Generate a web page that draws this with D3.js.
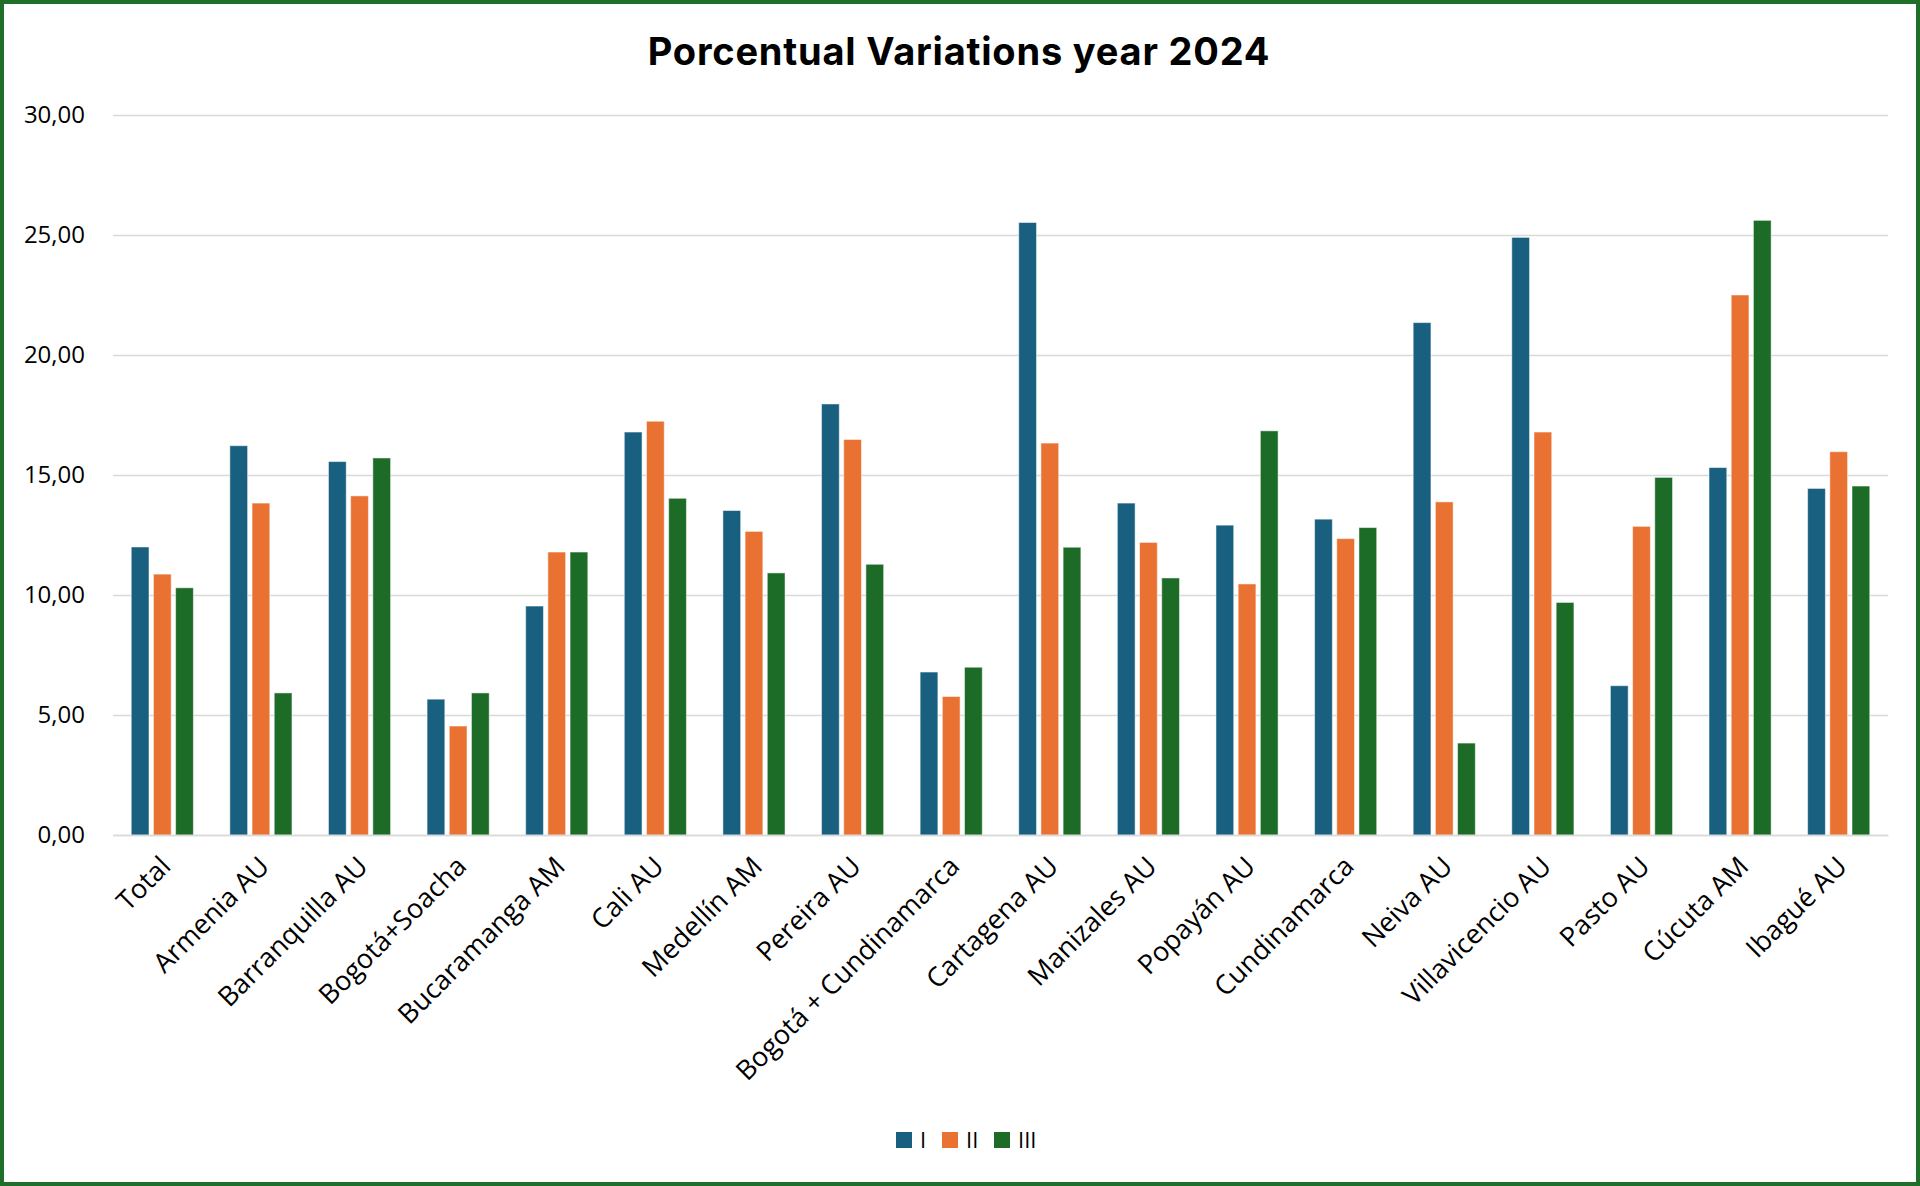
<!DOCTYPE html>
<html>
<head>
<meta charset="utf-8">
<script src="https://cdn.jsdelivr.net/npm/d3@7"></script>
<style>
  html, body { margin: 0; padding: 0; background: #fff; }
  svg { display: block; }
</style>
</head>
<body>
<svg id="chart" width="1920" height="1186"></svg>
<script>
const categories = ["Total","Armenia AU","Barranquilla AU","Bogotá+Soacha","Bucaramanga AM","Cali AU","Medellín AM","Pereira AU","Bogotá + Cundinamarca","Cartagena AU","Manizales AU","Popayán AU","Cundinamarca","Neiva AU","Villavicencio AU","Pasto AU","Cúcuta AM","Ibagué AU"];
const seriesNames = ["I","II","III"];
const seriesI   = [12.0,16.22,15.56,5.66,9.54,16.79,13.52,17.96,6.79,25.52,13.83,12.91,13.16,21.35,24.9,6.22,15.31,14.44];
const seriesII  = [10.87,13.83,14.13,4.54,11.79,17.24,12.65,16.48,5.77,16.33,12.19,10.46,12.35,13.88,16.79,12.86,22.5,15.97];
const seriesIII = [10.3,5.92,15.71,5.92,11.79,14.03,10.92,11.28,6.99,11.99,10.71,16.84,12.81,3.83,9.69,14.9,25.61,14.54];
const yTicks = [0,5,10,15,20,25,30];
const colors = ["#185f80","#e97132","#1c6b26"];

const W = 1920, H = 1186;
const margin = {left: 113, right: 32, top: 115, bottom: 351};
const svg = d3.select("#chart");
const font = "'Open Sans', sans-serif";

// border
svg.append("rect").attr("x",2).attr("y",2).attr("width",W-4).attr("height",H-4)
  .attr("fill","#fff").attr("stroke","#1f6e2a").attr("stroke-width",4);

// title
svg.append("text").attr("x", 959).attr("y", 65).attr("text-anchor","middle")
  .attr("font-family","Inter, 'Open Sans', sans-serif").attr("font-weight",700)
  .attr("font-size",38).attr("letter-spacing",0.8).attr("fill","#000").text("Porcentual Variations year 2024");

const x = d3.scaleBand().domain(categories).range([margin.left, W - margin.right])
  .paddingInner(0.37).paddingOuter(0.185);
const xs = d3.scaleBand().domain(seriesNames).range([0, x.bandwidth()]).paddingInner(0.2);
const y = d3.scaleLinear().domain([0,30]).range([H - margin.bottom, margin.top]);

// grid
const yAxis = d3.axisLeft(y).tickValues(yTicks).tickSize(-(W - margin.left - margin.right))
  .tickFormat(d => d3.format(".2f")(d).replace(".", ","));
const gy = svg.append("g").attr("transform", `translate(${margin.left},0)`).call(yAxis);
gy.select(".domain").remove();
gy.selectAll(".tick line").attr("stroke","#d9d9d9").attr("stroke-width",1.5);
gy.selectAll(".tick text").attr("x",-28).attr("font-family",font).attr("font-size",24).attr("fill","#000");

// bars
const data = [seriesI, seriesII, seriesIII];
categories.forEach((c, i) => {
  const g = svg.append("g").attr("transform", `translate(${x(c)},0)`);
  seriesNames.forEach((s, k) => {
    const v = data[k][i];
    g.append("rect").attr("x", xs(s)).attr("width", xs.bandwidth())
      .attr("y", y(v)).attr("height", y(0) - y(v))
      .attr("fill", colors[k]).attr("stroke", "#ffffff").attr("stroke-opacity",0.5).attr("stroke-width",1);
  });
});

// x axis labels
const xAxis = d3.axisBottom(x).tickSize(0).tickPadding(0);
const gx = svg.append("g").attr("transform", `translate(0,${y(0)})`).call(xAxis);
gx.select(".domain").attr("stroke","#d9d9d9").attr("stroke-width",1.5);
gx.selectAll(".tick text")
  .attr("font-family",font).attr("font-size",27).attr("fill","#000")
  .attr("text-anchor","end").attr("dy",0)
  .attr("transform","translate(10,33) rotate(-45)");

// legend
const legendX = [896, 942, 994];
const lg = svg.append("g");
seriesNames.forEach((s, k) => {
  lg.append("rect").attr("x", legendX[k]).attr("y", 1132).attr("width",16).attr("height",16).attr("fill",colors[k]);
  lg.append("text").attr("x", legendX[k] + 24).attr("y", 1148).attr("font-family",font).attr("font-size",22).attr("fill","#000").text(s);
});
</script>
</body>
</html>
